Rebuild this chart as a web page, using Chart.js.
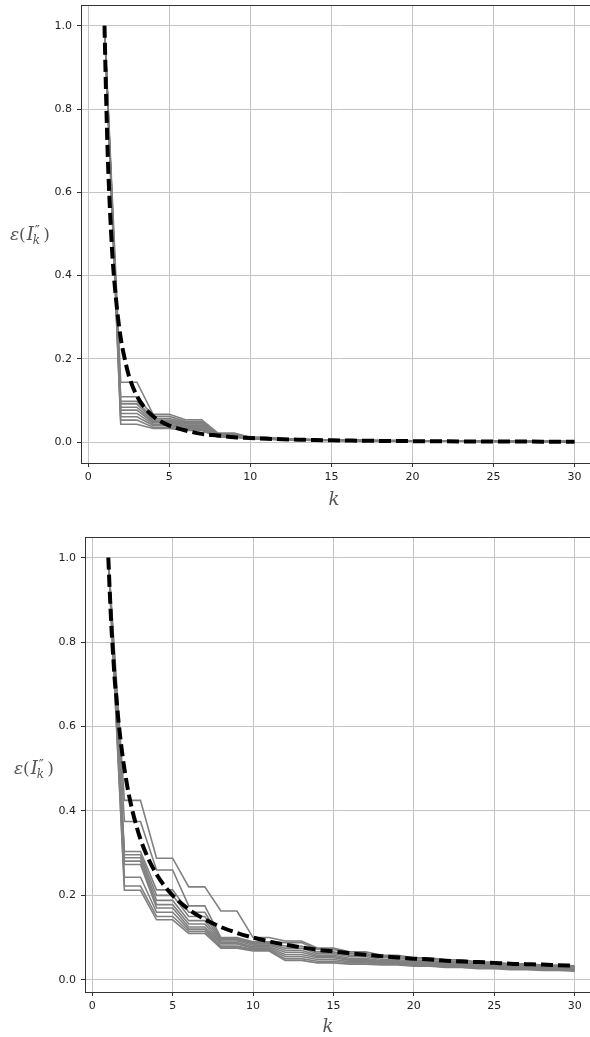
<!DOCTYPE html>
<html>
<head>
<meta charset="utf-8">
<script src="https://cdn.jsdelivr.net/npm/chart.js@4"></script>
<style>
  html, body { margin: 0; padding: 0; background: #fff; overflow: hidden; }
  .box { position: absolute; left: 0; }
</style>
</head>
<body>
<div class="box" style="top:0px"><canvas id="topChart" width="600" height="518"></canvas></div>
<div class="box" style="top:520px"><canvas id="bottomChart" width="600" height="517"></canvas></div>
<script>
"strict";

const kValues = [1,2,3,4,5,6,7,8,9,10,11,12,13,14,15,16,17,18,19,20,21,22,23,24,25,26,27,28,29,30];
const xTicks = [0, 5, 10, 15, 20, 25, 30];
const yTicks = [0.0, 0.2, 0.4, 0.6, 0.8, 1.0];

// the dashed curves are drawn smooth, so they are read at extra k positions
const dashedK = [1, 1.1, 1.2, 1.3, 1.4, 1.5, 1.6, 1.8, 2, 2.25, 2.5, 3, 3.5, 4, 4.5, 5, 6, 7, 8, 9, 10, 11, 12, 13, 14, 15, 16, 17, 18, 19, 20, 21, 22, 23, 24, 25, 26, 27, 28, 29, 30];

// top panel: dashed mean curve + grey runs
const topDashed = [1.0, 0.83, 0.69, 0.59, 0.51, 0.44, 0.39, 0.31, 0.25, 0.2, 0.16, 0.111, 0.082, 0.0625, 0.049, 0.04, 0.028, 0.02, 0.016, 0.012, 0.01, 0.0083, 0.007, 0.006, 0.005, 0.0045, 0.004, 0.0035, 0.003, 0.0028, 0.0025, 0.0023, 0.0021, 0.0019, 0.0017, 0.0016, 0.0015, 0.0014, 0.0013, 0.0012, 0.0011];
const topGray = [
  [1, .144,.144, .067,.067, .054,.054, .022,.022, .012,.012, .008,.008, .006,.006, .005,.005, .004,.004, .0035,.0035, .003,.003, .0026,.0026, .0023,.0023, .002,.002, .0018],
  [1, .109,.109, .062,.062, .050,.050, .020,.020, .011,.011, .0075,.0075, .0058,.0058, .0048,.0048, .0039,.0039, .0034,.0034, .0029,.0029, .0025,.0025, .0022,.0022, .0019,.0019, .0017],
  [1, .098,.098, .057,.057, .047,.047, .019,.019, .011,.011, .0072,.0072, .0056,.0056, .0046,.0046, .0038,.0038, .0032,.0032, .0028,.0028, .0024,.0024, .0021,.0021, .0018,.0018, .0016],
  [1, .092,.092, .053,.053, .044,.044, .018,.018, .010,.010, .007,.007, .0054,.0054, .0044,.0044, .0036,.0036, .0031,.0031, .0027,.0027, .0023,.0023, .002,.002, .0017,.0017, .0015],
  [1, .084,.084, .050,.050, .041,.041, .017,.017, .010,.010, .0068,.0068, .0052,.0052, .0042,.0042, .0035,.0035, .003,.003, .0026,.0026, .0022,.0022, .0019,.0019, .0016,.0016, .0014],
  [1, .077,.077, .047,.047, .038,.038, .016,.016, .009,.009, .0065,.0065, .005,.005, .004,.004, .0034,.0034, .0029,.0029, .0025,.0025, .0021,.0021, .0018,.0018, .0015,.0015, .0013],
  [1, .069,.069, .043,.043, .035,.035, .015,.015, .009,.009, .0062,.0062, .0048,.0048, .0038,.0038, .0032,.0032, .0028,.0028, .0024,.0024, .002,.002, .0017,.0017, .0014,.0014, .0012],
  [1, .061,.061, .040,.040, .032,.032, .014,.014, .008,.008, .006,.006, .0046,.0046, .0036,.0036, .0031,.0031, .0027,.0027, .0023,.0023, .0019,.0019, .0016,.0016, .0013,.0013, .0011],
  [1, .053,.053, .036,.036, .030,.030, .013,.013, .008,.008, .0058,.0058, .0044,.0044, .0035,.0035, .003,.003, .0026,.0026, .0022,.0022, .0018,.0018, .0015,.0015, .0012,.0012, .001],
  [1, .043,.043, .033,.033, .028,.028, .012,.012, .007,.007, .0055,.0055, .0042,.0042, .0034,.0034, .0029,.0029, .0025,.0025, .0021,.0021, .0017,.0017, .0014,.0014, .0011,.0011, .0009]
];

// bottom panel
const bottomDashed = [1.0, 0.91, 0.83, 0.77, 0.71, 0.67, 0.625, 0.556, 0.5, 0.444, 0.4, 0.333, 0.286, 0.25, 0.222, 0.2, 0.167, 0.143, 0.125, 0.111, 0.1, 0.091, 0.083, 0.077, 0.071, 0.067, 0.0625, 0.059, 0.056, 0.053, 0.05, 0.048, 0.045, 0.043, 0.042, 0.04, 0.038, 0.037, 0.036, 0.0345, 0.0333];
const bottomGray = [
  [1, .425,.425, .288,.288, .22,.22, .163,.163, .10,.10, .092,.092, .075,.075, .066,.066, .058,.058, .052,.052, .047,.047, .042,.042, .038,.038, .035,.035, .033],
  [1, .375,.375, .26,.26, .175,.175, .10,.10, .09,.09, .088,.088, .072,.072, .062,.062, .055,.055, .05,.05, .044,.044, .04,.04, .036,.036, .033,.033, .031],
  [1, .304,.304, .213,.213, .16,.16, .098,.098, .088,.088, .08,.08, .066,.066, .058,.058, .052,.052, .046,.046, .041,.041, .037,.037, .034,.034, .031,.031, .029],
  [1, .296,.296, .20,.20, .15,.15, .095,.095, .085,.085, .075,.075, .062,.062, .055,.055, .048,.048, .043,.043, .039,.039, .035,.035, .032,.032, .029,.029, .027],
  [1, .289,.289, .188,.188, .14,.14, .092,.092, .082,.082, .07,.07, .058,.058, .051,.051, .045,.045, .041,.041, .037,.037, .033,.033, .03,.03, .028,.028, .026],
  [1, .281,.281, .178,.178, .132,.132, .088,.088, .078,.078, .065,.065, .055,.055, .048,.048, .043,.043, .039,.039, .035,.035, .031,.031, .029,.029, .027,.027, .025],
  [1, .273,.273, .17,.17, .125,.125, .085,.085, .075,.075, .06,.06, .052,.052, .046,.046, .041,.041, .037,.037, .033,.033, .03,.03, .028,.028, .026,.026, .024],
  [1, .243,.243, .16,.16, .12,.12, .08,.08, .072,.072, .055,.055, .048,.048, .043,.043, .039,.039, .035,.035, .032,.032, .029,.029, .027,.027, .025,.025, .023],
  [1, .222,.222, .15,.15, .115,.115, .078,.078, .07,.07, .05,.05, .044,.044, .04,.04, .037,.037, .034,.034, .03,.03, .028,.028, .026,.026, .024,.024, .022],
  [1, .212,.212, .142,.142, .11,.11, .075,.075, .068,.068, .046,.046, .04,.04, .037,.037, .035,.035, .032,.032, .029,.029, .026,.026, .024,.024, .022,.022, .02]
];

function toPoints(xs, values) {
  return values.map((v, i) => ({ x: xs[i], y: v }));
}

// draws eps(I''_k) piece by piece
function drawYLabel(ctx, x, y) {
  ctx.fillStyle = "#555";
  ctx.textBaseline = "alphabetic";
  ctx.textAlign = "left";
  let cx = x;
  const base = y + 6;
  ctx.font = "italic 17px 'DejaVu Serif'";
  ctx.fillText("\u03b5", cx, base); cx += ctx.measureText("\u03b5").width;
  ctx.font = "17px 'DejaVu Serif'";
  ctx.fillText("(", cx, base); cx += ctx.measureText("(").width + 1;
  ctx.font = "italic 18px 'DejaVu Serif'";
  ctx.fillText("I", cx, base); cx += ctx.measureText("I").width;
  ctx.font = "italic 12px 'DejaVu Serif'";
  ctx.fillText("k", cx - 1, base + 4);
  const kw = ctx.measureText("k").width;
  ctx.font = "14px 'DejaVu Sans'";
  ctx.fillText("\u2033", cx + 1, base - 5);
  const pw = ctx.measureText("\u2033").width;
  cx += Math.max(kw, pw) + 2;
  ctx.font = "17px 'DejaVu Serif'";
  ctx.fillText(")", cx, base);
}

const framePlugin = {
  id: "frame",
  afterDraw(chart, args, opts) {
    const { ctx, chartArea: a } = chart;
    ctx.save();
    ctx.strokeStyle = "#333";
    ctx.lineWidth = 1;
    ctx.strokeRect(a.left + 0.5, a.top + 0.5, a.right - a.left, a.bottom - a.top);
    ctx.fillStyle = "#555";
    ctx.font = "italic 18px 'DejaVu Serif'";
    ctx.textAlign = "center";
    ctx.textBaseline = "middle";
    ctx.fillText("k", opts.kx, opts.ky);
    drawYLabel(ctx, opts.lx, opts.ly);
    ctx.restore();
  }
};

function makeChart(id, grayRows, dashedRow, cfg) {
  const datasets = grayRows.map((row) => ({
    data: toPoints(kValues, row),
    borderColor: "#808080",
    borderWidth: 1.6,
    pointRadius: 0,
    fill: false,
    order: 2,
  }));
  datasets.push({
    data: toPoints(dashedK, dashedRow),
    borderColor: "#000",
    borderWidth: 4,
    borderDash: [12, 5],
    cubicInterpolationMode: "monotone",
    pointRadius: 0,
    fill: false,
    order: 1,
  });

  const ctx = document.getElementById(id).getContext("2d");
  return new Chart(ctx, {
    type: "line",
    data: { datasets },
    plugins: [framePlugin],
    options: {
      responsive: false,
      animation: false,
      devicePixelRatio: 1,
      layout: { padding: { left: 0, right: 2, top: cfg.top, bottom: 0 } },
      plugins: {
        legend: { display: false },
        tooltip: { enabled: false },
        frame: cfg.labels,
      },
      scales: {
        x: {
          type: "linear",
          min: -0.45,
          max: 31.45,
          afterBuildTicks: (axis) => { axis.ticks = xTicks.map((v) => ({ value: v })); },
          afterFit: (scale) => { scale.height = cfg.xHeight; },
          grid: { color: "#c4c4c4", lineWidth: 1, tickLength: 4, tickColor: "#333" },
          border: { display: false },
          ticks: {
            color: "#222",
            font: { family: "DejaVu Sans", size: 11 },
            padding: 4,
            maxRotation: 0,
            callback: (v) => String(v),
          },
        },
        y: {
          type: "linear",
          min: cfg.yMin,
          max: cfg.yMax,
          afterBuildTicks: (axis) => { axis.ticks = yTicks.map((v) => ({ value: v })); },
          afterFit: (scale) => {
            scale.width = cfg.yWidth;
            scale.paddingTop = 0;
            scale.paddingBottom = 0;
          },
          grid: { color: "#c4c4c4", lineWidth: 1, tickLength: 4, tickColor: "#333" },
          border: { display: false },
          ticks: {
            color: "#222",
            font: { family: "DejaVu Sans", size: 11 },
            padding: 5,
            callback: (v) => v.toFixed(1),
          },
        },
      },
    },
  });
}

makeChart("topChart", topGray, topDashed, {
  top: 5, xHeight: 55, yWidth: 81, yMin: -0.05, yMax: 1.05,
  labels: { kx: 334, ky: 500, lx: 10, ly: 234 },
});

makeChart("bottomChart", bottomGray, bottomDashed, {
  top: 17, xHeight: 45, yWidth: 85, yMin: -0.029, yMax: 1.049,
  labels: { kx: 328, ky: 507, lx: 14, ly: 248 },
});
</script>
</body>
</html>
